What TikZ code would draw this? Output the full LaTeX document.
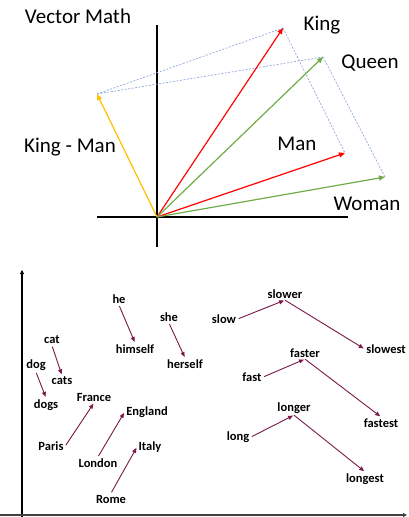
\documentclass[tikz,border=0pt]{standalone}
\usepackage{fontspec}
\setmainfont{Carlito}
\usetikzlibrary{arrows.meta}
\definecolor{vred}{RGB}{255,0,0}
\definecolor{vgreen}{RGB}{112,173,71}
\definecolor{vorange}{RGB}{255,192,0}
\definecolor{vdash}{RGB}{143,170,220}
\definecolor{maroon}{RGB}{122,24,72}
\definecolor{axgray}{RGB}{64,64,64}
\tikzset{
  big/.style={font=\fontsize{21}{25}\selectfont, inner sep=0pt},
  lbl/.style={font=\bfseries\fontsize{12.5}{15}\selectfont, inner sep=1.5pt},
  vec/.style={line width=1.2pt, -{Triangle[length=6pt,width=5pt]}},
  guide/.style={vdash, line width=0.7pt, dash pattern=on 2pt off 1.5pt},
  rel/.style={maroon, line width=0.9pt, -{Triangle[length=5pt,width=4pt]}, shorten <=1pt, shorten >=1pt},
  axis/.style={line width=1.1pt}
}
\begin{document}
\begin{tikzpicture}[x=1pt,y=-1pt]
\useasboundingbox (0,0) rectangle (408,517);
\fill[white] (0,0) rectangle (408,517);
% ---------- top: vector math ----------
\node[big] (title) at (78,16) {Vector Math};
\coordinate (O) at (157,217);
\coordinate (axT) at (157,25);
\coordinate (axB) at (157,247);
\coordinate (axL) at (97,217);
\coordinate (axR) at (348,217);
\draw[axis] (axT) -- (axB);
\draw[axis] (axL) -- (axR);
\coordinate (K) at (283,28);
\coordinate (Q) at (323,57);
\coordinate (M) at (345,153);
\coordinate (W) at (385,177);
\coordinate (KM) at (97,94);
\draw[guide] (KM) -- (K);
\draw[guide] (KM) -- (Q);
\draw[guide] (K) -- (M);
\draw[guide] (Q) -- (W);
\draw[vec, vorange] (O) -- (KM);
\draw[vec, vred] (O) -- (K);
\draw[vec, vgreen] (O) -- (Q);
\draw[vec, vred] (O) -- (M);
\draw[vec, vgreen] (O) -- (W);
\node[big] (lK) at (322,25) {King};
\node[big] (lQ) at (370,63) {Queen};
\node[big] (lM) at (297,144) {Man};
\node[big] (lW) at (367,204) {Woman};
\node[big] (lKM) at (70,147) {King - Man};
% ---------- bottom: word relations ----------
\coordinate (yT) at (22,270);
\coordinate (yB) at (22,517);
\coordinate (xL) at (0,515);
\coordinate (xR) at (407,515);
\draw[line width=1.1pt, -{Triangle[length=4pt,width=4pt]}] (yB) -- (yT);
\draw[axgray, line width=1.5pt, -{Triangle[length=4pt,width=4pt]}] (xL) -- (xR);
\node[lbl] (he) at (119,299) {he};
\node[lbl] (she) at (169,317) {she};
\node[lbl] (himself) at (135,349) {himself};
\node[lbl] (herself) at (185,364) {herself};
\node[lbl] (cat) at (52,340) {cat};
\node[lbl] (dog) at (36,365) {dog};
\node[lbl] (cats) at (62,381) {cats};
\node[lbl] (dogs) at (46,405) {dogs};
\node[lbl] (France) at (94,397) {France};
\node[lbl] (England) at (147,412) {England};
\node[lbl] (Paris) at (51,446) {Paris};
\node[lbl] (Italy) at (150,447) {Italy};
\node[lbl] (London) at (98,463) {London};
\node[lbl] (Rome) at (111,499) {Rome};
\node[lbl] (slower) at (285,294) {slower};
\node[lbl] (slow) at (224,319) {slow};
\node[lbl] (slowest) at (386,349) {slowest};
\node[lbl] (faster) at (305,353) {faster};
\node[lbl] (fast) at (252,377) {fast};
\node[lbl] (fastest) at (381,423) {fastest};
\node[lbl] (longer) at (294,408) {longer};
\node[lbl] (long) at (238,437) {long};
\node[lbl] (longest) at (365,479) {longest};
\draw[rel] (he.south) -- (himself.north);
\draw[rel] (she.south) -- (herself.north);
\draw[rel] (cat.south) -- (cats.north);
\draw[rel] (dog.south) -- (dogs.north);
\draw[rel] (Paris.east) -- (France.south);
\draw[rel] (London.north) -- (England.west);
\draw[rel] (Rome.north) -- (Italy.west);
\draw[rel] (slow.east) -- (slower.south);
\draw[rel, shorten <=0pt] (slower.south) -- (slowest.west);
\draw[rel] (fast.east) -- (faster.south);
\draw[rel, shorten <=0pt] (faster.south) -- (fastest.north);
\draw[rel] (long.east) -- (longer.south);
\draw[rel, shorten <=0pt] (longer.south) -- (longest.north);
\end{tikzpicture}
\end{document}
